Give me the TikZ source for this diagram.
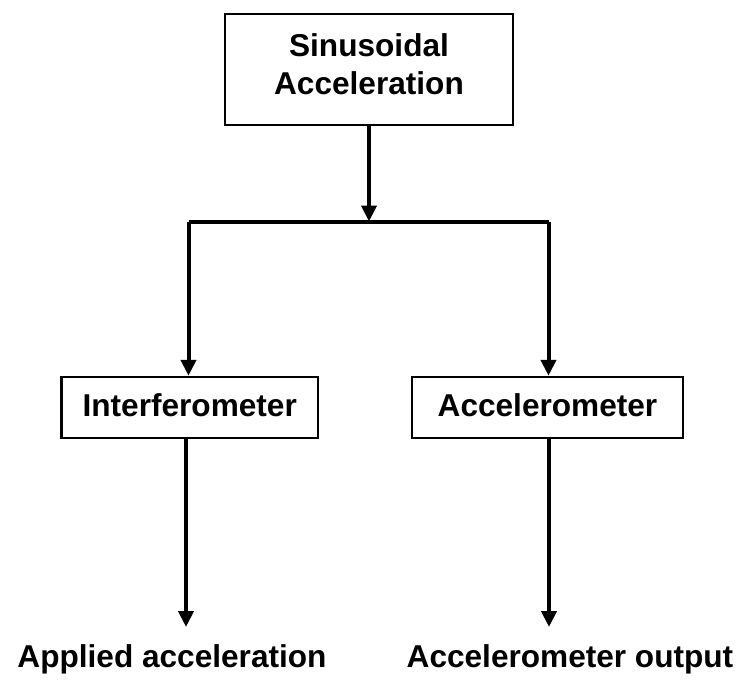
\documentclass[tikz,border=0pt]{standalone}
\usepackage{fontspec}
\setmainfont{Liberation Sans}
\usetikzlibrary{arrows.meta}
\begin{document}
\begin{tikzpicture}[x=1pt,y=-1pt,
  every node/.style={font=\bfseries\fontsize{31.6}{38}\selectfont},
  blockbox/.style={draw, line width=2.5pt, inner sep=0pt, align=center},
  conn/.style={line width=4pt},
  arr/.style={conn, -{Triangle[length=16pt,width=15pt]}}]
\useasboundingbox (0,0) rectangle (742,681);
\node[blockbox, minimum width=288pt, minimum height=111pt, text depth=10pt] (top) at (369,69.5) {Sinusoidal\\Acceleration};
\node[blockbox, minimum width=256.5pt, minimum height=61pt, text height=23pt, text depth=6pt] (inter) at (189.75,407.5) {Interferometer};
\node[blockbox, minimum width=271pt, minimum height=61pt, text height=23pt, text depth=6pt] (accel) at (547.5,407.5) {Accelerometer};
\coordinate (j) at (369,221.5);
\coordinate (jl) at (188.5,221.5);
\coordinate (jr) at (548.5,221.5);
\coordinate (bl) at (186,627);
\coordinate (br) at (549,627);
\node[anchor=base, inner sep=0pt] (applied) at (172,667) {Applied acceleration};
\node[anchor=base, inner sep=0pt] (output) at (570,667) {Accelerometer output};
\draw[arr] (top.south) -- (j);
\draw[conn] (jl) -- (jr);
\draw[arr] (jl) -- (jl |- inter.north);
\draw[arr] (jr) -- (jr |- accel.north);
\draw[arr] (bl |- inter.south) -- (bl);
\draw[arr] (br |- accel.south) -- (br);
\end{tikzpicture}
\end{document}
